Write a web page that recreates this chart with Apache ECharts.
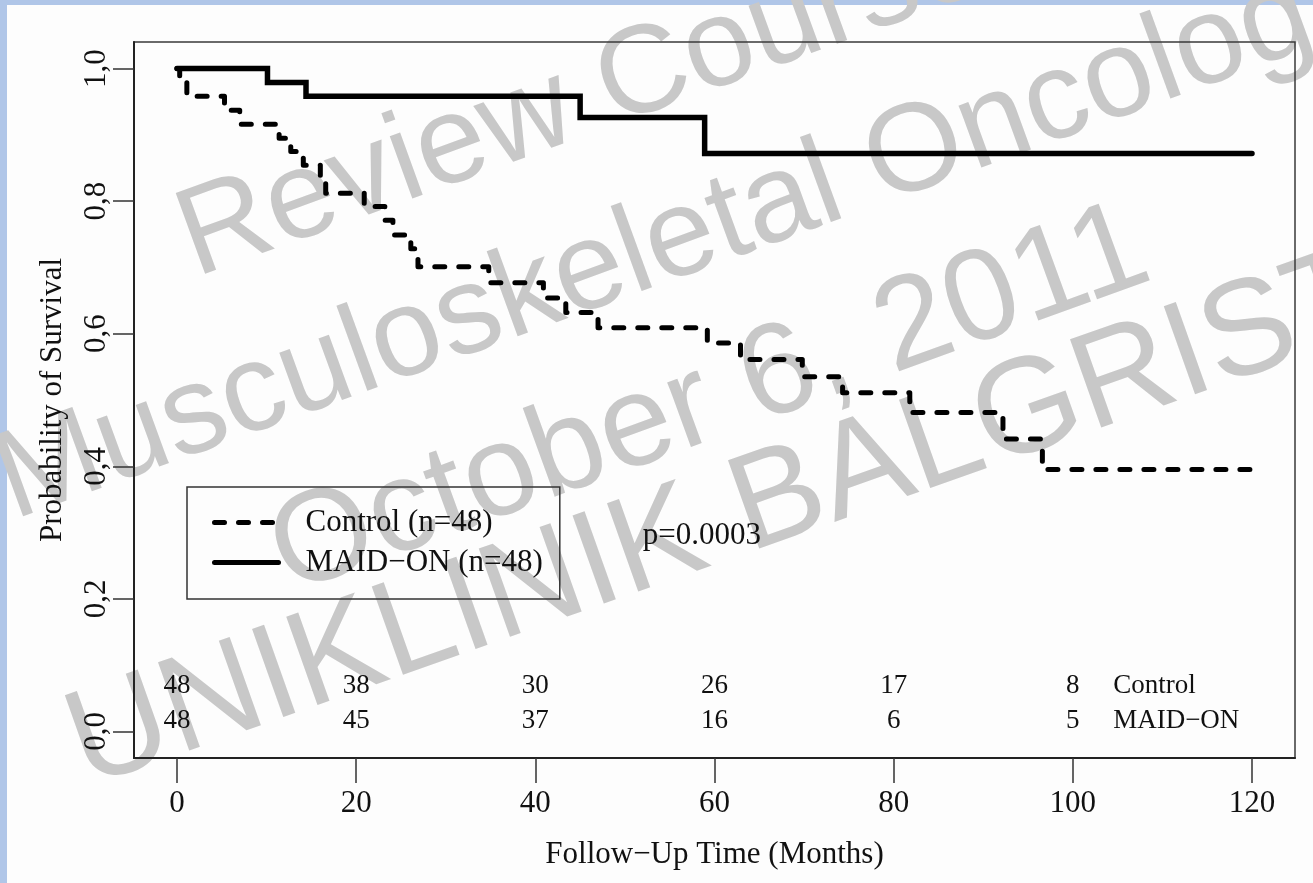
<!DOCTYPE html>
<html>
<head>
<meta charset="utf-8">
<script src="https://cdn.jsdelivr.net/npm/echarts@6/dist/echarts.min.js"></script>
<style>
html,body{margin:0;padding:0;background:#fdfdfd;}
#c{width:1313px;height:883px;}
</style>
</head>
<body>
<div id="c"></div>
<script>
// ---- data ----
const controlTimes = [0, 0.3, 1.1, 5.3, 7.0, 11.4, 12.7, 14.1, 16.0, 16.6, 20.9, 23.2, 24.1, 26.1, 26.9, 34.8, 40.9, 43.4, 47.0, 59.2, 62.9, 69.8, 74.3, 81.8, 92.2, 96.6, 120];
const controlSurv  = [1.0, 0.979, 0.958, 0.937, 0.916, 0.895, 0.875, 0.854, 0.833, 0.812, 0.792, 0.771, 0.749, 0.728, 0.701, 0.677, 0.654, 0.632, 0.609, 0.586, 0.561, 0.535, 0.511, 0.481, 0.441, 0.395, 0.395];
const maidTimes = [0, 10.1, 14.4, 45.0, 58.9, 120];
const maidSurv  = [1.0, 0.979, 0.958, 0.926, 0.872, 0.872];
const xTicks = [0, 20, 40, 60, 80, 100, 120];
const yTicks = [0, 0.2, 0.4, 0.6, 0.8, 1.0];
const riskTimes   = [0, 20, 40, 60, 80, 100];
const riskControl = [48, 38, 30, 26, 17, 8];
const riskMaid    = [48, 45, 37, 16, 6, 5];
const groupNames  = ['Control', 'MAID\u2212ON'];
const legendNames = ['Control (n=48)', 'MAID\u2212ON (n=48)'];
const pValueText  = 'p=0.0003';
const xTitle = 'Follow\u2212Up Time (Months)';
const yTitle = 'Probability of Survival';
const watermarkLines = ['Review Course', 'Musculoskeletal Oncology', 'October 6, 2011', 'UNIKLINIK BALGRIST'];

// ---- chart ----
const SERIF = "'Liberation Serif','Times New Roman',serif";
const SANS = "'Liberation Sans',Arial,sans-serif";
const INK = '#111';

const chart = echarts.init(document.getElementById('c'), null, {renderer: 'canvas'});

const zip = (xs, ys) => xs.map((x, i) => [x, ys[i]]);

const riskRow = (counts, name, yv) => {
  const d = riskTimes.map((t, i) => ({value: [t, yv], text: String(counts[i])}));
  d.push({value: [104.5, yv], text: name, label: {position: 'right', distance: 0}});
  return d;
};

const wm = [
  {cx: 582, cy: 100, size: 125, rot: 20},
  {cx: 684, cy: 239, size: 125, rot: 20},
  {cx: 710, cy: 402, size: 130, rot: 20},
  {cx: 722, cy: 522, size: 136, rot: 19.5}
];

const option = {
  animation: false,
  backgroundColor: '#fdfdfd',
  graphic: [
    {type: 'rect', z: -20, silent: true, shape: {x: 0, y: 0, width: 1313, height: 5}, style: {fill: '#b0c6e8'}},
    {type: 'rect', z: -20, silent: true, shape: {x: 0, y: 0, width: 7, height: 883}, style: {fill: '#b0c6e8'}}
  ].concat(watermarkLines.map((t, i) => ({
    type: 'text', z: -10, silent: true,
    x: wm[i].cx, y: wm[i].cy, rotation: wm[i].rot * Math.PI / 180,
    style: {text: t, fontSize: wm[i].size, fontFamily: SANS, fill: '#c8c8c8',
            align: 'center', verticalAlign: 'middle', textAlign: 'center', textVerticalAlign: 'middle'}
  }))),
  grid: {
    left: 134, top: 42, width: 1161, height: 716,
    show: true, borderColor: '#3a3a3a', borderWidth: 1.5, backgroundColor: 'transparent',
    containLabel: false, outerBoundsMode: 'none'
  },
  legend: {
    data: legendNames,
    orient: 'vertical',
    left: 187, top: 487,
    padding: [20, 17, 21, 25],
    itemGap: 9,
    itemWidth: 64, itemHeight: 16,
    borderColor: '#333', borderWidth: 1.5,
    selectedMode: false,
    lineStyle: {width: 5},
    itemStyle: {opacity: 0, color: 'rgba(0,0,0,0)', borderWidth: 0},
    textStyle: {fontFamily: SERIF, fontSize: 31, lineHeight: 31, color: INK, padding: [0, 0, 0, 22]}
  },
  xAxis: {
    type: 'value', min: -4.8, max: 124.8,
    axisLine: {show: true, onZero: false, lineStyle: {color: '#222', width: 2}},
    axisTick: {show: true, customValues: xTicks, length: 25, lineStyle: {color: '#333', width: 1.5}},
    axisLabel: {customValues: xTicks, margin: 30, fontSize: 31, fontFamily: SERIF, color: INK},
    splitLine: {show: false},
    name: xTitle, nameLocation: 'middle', nameGap: 81,
    nameMoveOverlap: false,
    nameTextStyle: {fontSize: 31, fontFamily: SERIF, color: INK}
  },
  yAxis: {
    type: 'value', min: -0.04, max: 1.04,
    axisLine: {show: true, onZero: false, lineStyle: {color: '#222', width: 2}},
    axisTick: {show: true, customValues: yTicks, length: 21, lineStyle: {color: '#333', width: 1.5}},
    axisLabel: {customValues: yTicks, rotate: 90, margin: 22, fontSize: 31, fontFamily: SERIF, color: INK,
                formatter: v => v.toFixed(1).replace('.', ',')},
    splitLine: {show: false},
    name: yTitle, nameLocation: 'middle', nameGap: 66, nameRotate: 90,
    nameMoveOverlap: false,
    nameTextStyle: {fontSize: 31, fontFamily: SERIF, color: INK}
  },
  series: [
    {
      name: legendNames[0], type: 'line', step: 'end', symbol: 'none', z: 3,
      itemStyle: {color: '#000'},
      data: zip(controlTimes, controlSurv),
      lineStyle: {color: '#000', width: 5, type: [10, 14], cap: 'round', join: 'round'}
    },
    {
      name: legendNames[1], type: 'line', step: 'end', symbol: 'none', z: 3,
      itemStyle: {color: '#000'},
      data: zip(maidTimes, maidSurv),
      lineStyle: {color: '#000', width: 5.5, type: 'solid', cap: 'round', join: 'miter'}
    },
    {
      name: 'risk', type: 'scatter', symbolSize: 0, silent: true, z: 4,
      itemStyle: {opacity: 1, color: '#000'},
      data: riskRow(riskControl, groupNames[0], 0.068).concat(riskRow(riskMaid, groupNames[1], 0.0165)),
      label: {show: true, position: 'inside', formatter: p => p.data.text, opacity: 1,
              fontSize: 27, fontFamily: SERIF, color: INK}
    },
    {
      name: 'pvalue', type: 'scatter', symbolSize: 0, silent: true, z: 4,
      itemStyle: {opacity: 1, color: '#000'},
      data: [{value: [52, 0.295], text: pValueText}],
      label: {show: true, position: 'right', distance: 0, formatter: p => p.data.text, opacity: 1,
              fontSize: 31, fontFamily: SERIF, color: INK}
    }
  ]
};
chart.setOption(option);
</script>
</body>
</html>
